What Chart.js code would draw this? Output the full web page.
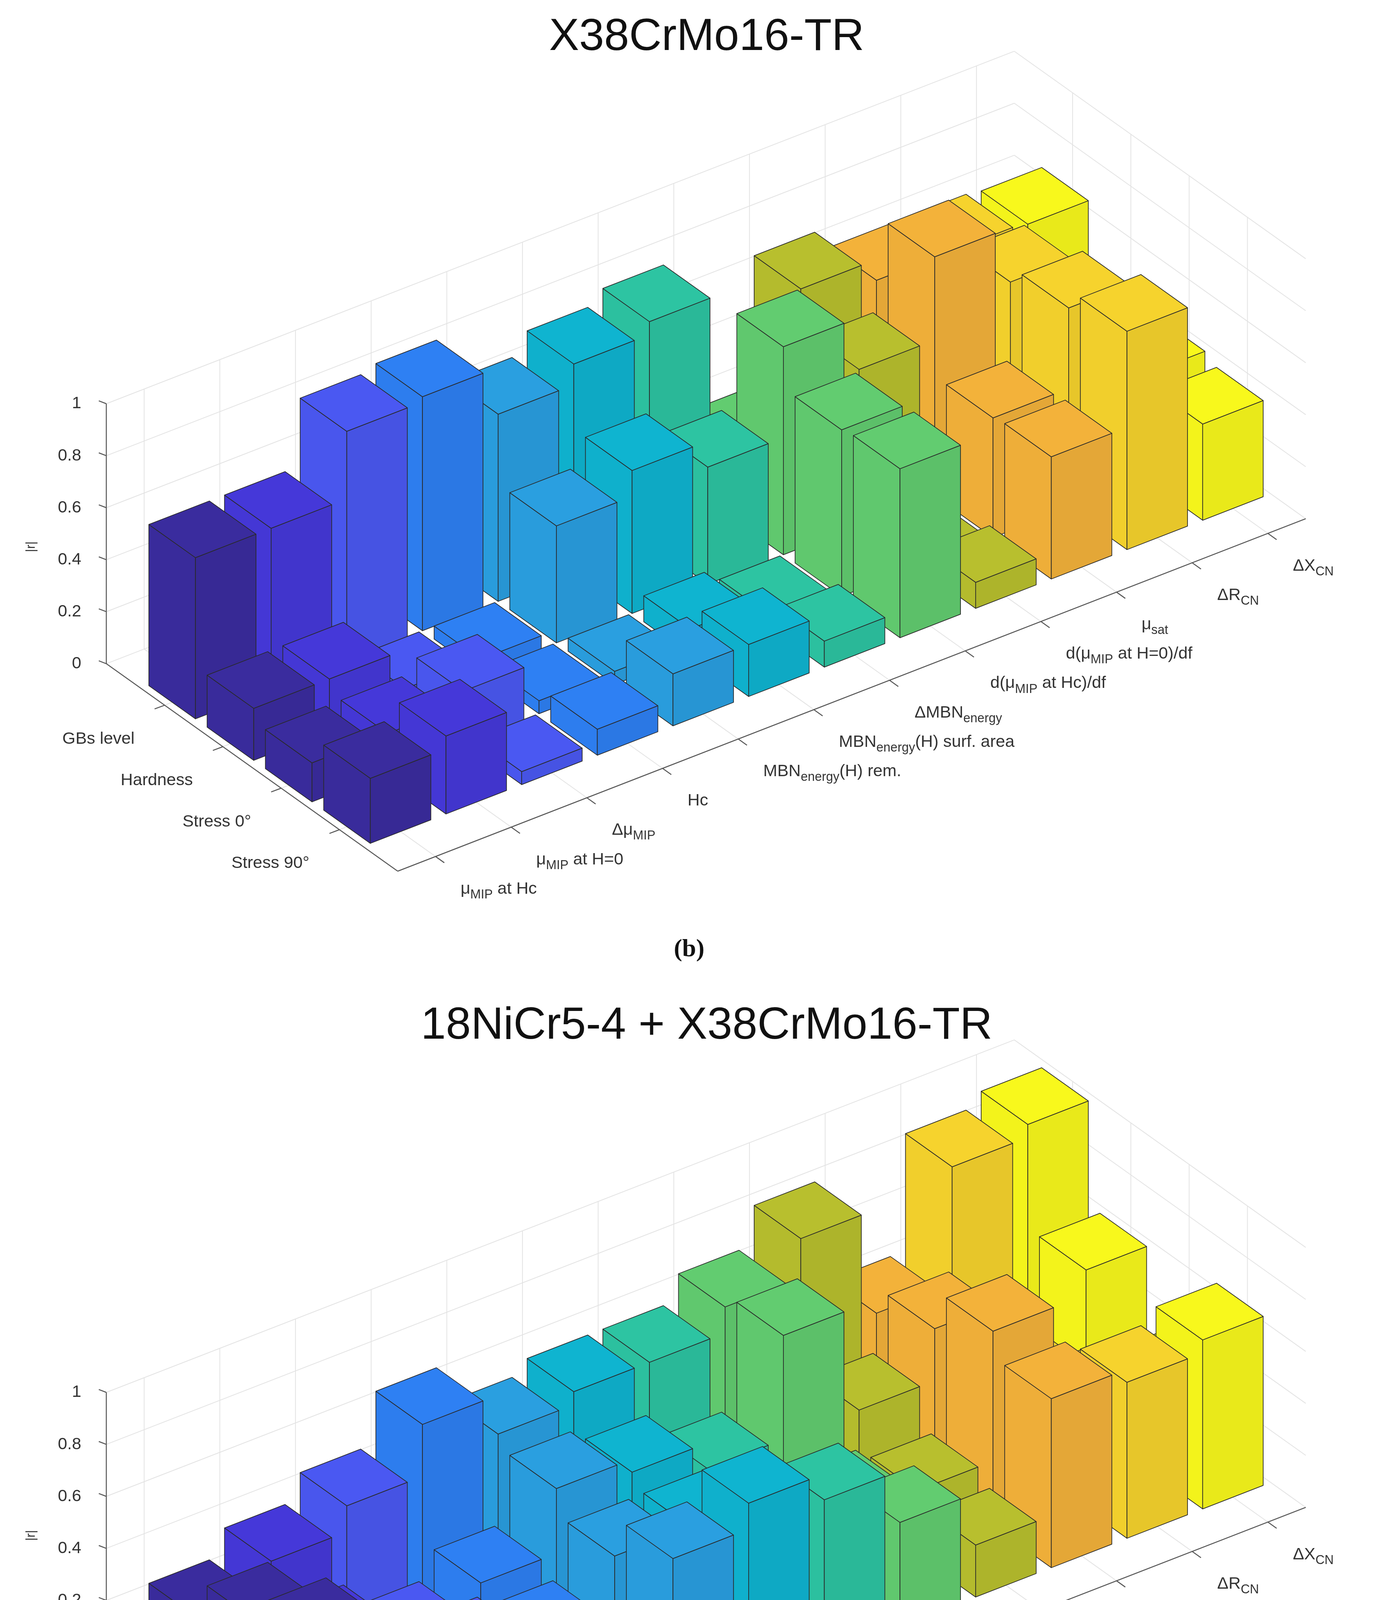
<!DOCTYPE html>
<html>
<head>
<meta charset="utf-8">
<script src="https://cdn.jsdelivr.net/npm/chart.js@4.4.1/dist/chart.umd.min.js"></script>
<style>
  html, body { margin: 0; padding: 0; background: #fff; overflow: hidden; }
  canvas { display: block; }
</style>
</head>
<body>
<canvas id="chartB" width="3524" height="2515"></canvas>
<canvas id="chartC" width="3524" height="2531"></canvas>
<script>
// categories
var rowLabels = ['GBs level', 'Hardness', 'Stress 0°', 'Stress 90°'];
var colLabels = [
  [['μ'], ['MIP', 1], [' at Hc']],
  [['μ'], ['MIP', 1], [' at H=0']],
  [['Δμ'], ['MIP', 1]],
  [['Hc']],
  [['MBN'], ['energy', 1], ['(H) rem.']],
  [['MBN'], ['energy', 1], ['(H) surf. area']],
  [['ΔMBN'], ['energy', 1]],
  [['d(μ'], ['MIP', 1], [' at Hc)/df']],
  [['d(μ'], ['MIP', 1], [' at H=0)/df']],
  [['μ'], ['sat', 1]],
  [['ΔR'], ['CN', 1]],
  [['ΔX'], ['CN', 1]]
];
var colColors = ['#3a2c9e', '#4538d9', '#4a58f2', '#2e80f3', '#2a9fe0', '#0fb4d0',
                 '#2dc4a2', '#62cc70', '#b8bf2e', '#f3b23a', '#f6d32d', '#f8f81c'];
var zTicks = [0, 0.2, 0.4, 0.6, 0.8, 1];

// |r| values, one array per row (GBs level, Hardness, Stress 0°, Stress 90°)
var b_gbs      = [0.62, 0.62, 0.88, 0.90, 0.72, 0.80, 0.85, 0.25, 0.75, 0.67, 0.67, 0.66];
var b_hardness = [0.20, 0.20, 0.05, 0.05, 0.45, 0.55, 0.45, 0.80, 0.60, 0.92, 0.71, 0.40];
var b_stress0  = [0.15, 0.15, 0.20, 0.05, 0.05, 0.10, 0.05, 0.64, 0.05, 0.46, 0.77, 0.40];
var b_stress90 = [0.25, 0.30, 0.05, 0.10, 0.20, 0.20, 0.10, 0.65, 0.10, 0.47, 0.84, 0.37];

var c_gbs      = [0.35, 0.45, 0.55, 0.75, 0.60, 0.65, 0.65, 0.75, 0.90, 0.50, 0.95, 1.00];
var c_hardness = [0.50, 0.30, 0.20, 0.30, 0.55, 0.50, 0.40, 0.80, 0.40, 0.60, 0.30, 0.60];
var c_stress0  = [0.60, 0.30, 0.30, 0.25, 0.45, 0.45, 0.30, 0.30, 0.25, 0.75, 0.35, 0.30];
var c_stress90 = [0.65, 0.50, 0.30, 0.20, 0.60, 0.70, 0.60, 0.40, 0.20, 0.65, 0.60, 0.65];

var S = 3.2; // reference picture units -> pixels

function shade(hex, f) {
  var n = parseInt(hex.slice(1), 16);
  var r = Math.round(((n >> 16) & 255) * f), g = Math.round(((n >> 8) & 255) * f), b = Math.round((n & 255) * f);
  return 'rgb(' + r + ',' + g + ',' + b + ')';
}

function drawRich(ctx, parts, x, y, align, size) {
  var w = 0, i;
  for (i = 0; i < parts.length; i++) {
    ctx.font = (parts[i][1] ? size * 0.75 : size) + 'px "Liberation Sans", Arial, sans-serif';
    w += ctx.measureText(parts[i][0]).width;
  }
  var cx = align === 'right' ? x - w : x;
  ctx.textAlign = 'left';
  ctx.textBaseline = 'middle';
  for (i = 0; i < parts.length; i++) {
    var sub = parts[i][1];
    ctx.font = (sub ? size * 0.75 : size) + 'px "Liberation Sans", Arial, sans-serif';
    ctx.fillText(parts[i][0], cx, y + (sub ? size * 0.35 : 0));
    cx += ctx.measureText(parts[i][0]).width;
  }
}

var bar3Plugin = {
  id: 'bar3',
  afterDatasetsDraw: function(chart) {
    var ctx = chart.ctx;
    var sx = chart.scales.x, sy = chart.scales.y;
    var opt = chart.options.plugins.bar3;
    var rows = opt.rows;
    // column index u, row index v, height z -> pixel, through the chart's scales
    function P(u, v, z) {
      return [sx.getPixelForValue(85 + (u - 0.5) * 60.5 + v * 46.6),
              sy.getPixelForValue(531 - (u - 0.5) * 23.5 + v * 33.2 - z * 208)];
    }
    function line(a, b) {
      ctx.beginPath(); ctx.moveTo(a[0], a[1]); ctx.lineTo(b[0], b[1]); ctx.stroke();
    }
    function poly(pts, fill) {
      ctx.beginPath();
      ctx.moveTo(pts[0][0], pts[0][1]);
      for (var i = 1; i < pts.length; i++) ctx.lineTo(pts[i][0], pts[i][1]);
      ctx.closePath();
      ctx.fillStyle = fill; ctx.fill(); ctx.stroke();
    }
    ctx.save();
    // title and caption
    ctx.fillStyle = '#111';
    ctx.textAlign = 'center'; ctx.textBaseline = 'middle';
    ctx.font = (36 * S) + 'px "Liberation Sans", Arial, sans-serif';
    ctx.fillText(opt.title, sx.getPixelForValue(565), sy.getPixelForValue(30));
    ctx.font = 'bold ' + (20 * S) + 'px "Liberation Serif", serif';
    ctx.fillText(opt.caption, sx.getPixelForValue(551), sy.getPixelForValue(760));

    // grid on walls and floor
    ctx.strokeStyle = '#e3e3e3'; ctx.lineWidth = 2;
    zTicks.forEach(function(z) {
      line(P(0.5, 0, z), P(12.5, 0, z));
      line(P(12.5, 0, z), P(12.5, 5, z));
    });
    for (var u = 1; u <= 12; u++) { line(P(u, 0, 0), P(u, 0, 1)); line(P(u, 0, 0), P(u, 5, 0)); }
    for (var v = 1; v <= 4; v++) { line(P(12.5, v, 0), P(12.5, v, 1)); line(P(0.5, v, 0), P(12.5, v, 0)); }

    // axes
    ctx.strokeStyle = '#555'; ctx.lineWidth = 2.5;
    line(P(0.5, 0, 0), P(0.5, 0, 1));
    line(P(0.5, 0, 0), P(0.5, 5, 0));
    line(P(0.5, 5, 0), P(12.5, 5, 0));
    ctx.fillStyle = '#333';
    var fs = 13.5 * S;
    ctx.font = fs + 'px "Liberation Sans", Arial, sans-serif';
    ctx.textAlign = 'right'; ctx.textBaseline = 'middle';
    zTicks.forEach(function(z) {
      var p = P(0.5, 0, z);
      line(p, [p[0] - 6 * S, p[1] - 2.3 * S]);
      ctx.fillText(String(z), p[0] - 20 * S, p[1]);
    });
    rowLabels.forEach(function(lab, i) {
      var p = P(0.5, i + 1, 0);
      line(p, [p[0] - 8 * S, p[1] + 3 * S]);
      drawRich(ctx, [[lab]], p[0] - 24 * S, p[1] + 27 * S, 'right', fs);
    });
    colLabels.forEach(function(lab, i) {
      var p = P(i + 1, 5, 0);
      line(p, [p[0] + 7 * S, p[1] + 5 * S]);
      drawRich(ctx, lab, p[0] + 20 * S, p[1] + 26 * S, 'left', fs);
    });
    ctx.save();
    var zl = P(0.5, 0, 0.45);
    ctx.translate(zl[0] - 60 * S, zl[1]);
    ctx.rotate(-Math.PI / 2);
    ctx.textAlign = 'center';
    ctx.fillText('|r|', 0, 0);
    ctx.restore();

    // bars, far to near
    ctx.strokeStyle = '#2a2a2a'; ctx.lineWidth = 1.8; ctx.lineJoin = 'round';
    var h = 0.4;
    for (var r = 0; r < rows.length; r++) {
      for (var c = 11; c >= 0; c--) {
        var z = rows[r][c];
        if (z <= 0.005) continue;
        var uc = c + 1, vc = r + 1, col = colColors[c];
        var u0 = uc - h, u1 = uc + h, v0 = vc - h, v1 = vc + h;
        poly([P(u0, v0, 0), P(u0, v1, 0), P(u0, v1, z), P(u0, v0, z)], shade(col, 0.98));
        poly([P(u0, v1, 0), P(u1, v1, 0), P(u1, v1, z), P(u0, v1, z)], shade(col, 0.94));
        poly([P(u0, v0, z), P(u1, v0, z), P(u1, v1, z), P(u0, v1, z)], col);
      }
    }
    ctx.restore();
  }
};

function makeChart(id, title, caption, rows, yMin, yMax) {
  return new Chart(document.getElementById(id), {
    type: 'scatter',
    data: { datasets: [{ data: [] }] },
    options: {
      responsive: false,
      animation: false,
      devicePixelRatio: 1,
      layout: { padding: 0 },
      scales: {
        x: { type: 'linear', min: 0, max: 1101, display: false },
        y: { type: 'linear', min: yMin, max: yMax, reverse: true, display: false }
      },
      plugins: {
        legend: { display: false },
        tooltip: { enabled: false },
        bar3: { title: title, caption: caption, rows: rows }
      }
    },
    plugins: [bar3Plugin]
  });
}

makeChart('chartB', 'X38CrMo16-TR', '(b)', [b_gbs, b_hardness, b_stress0, b_stress90], 0, 786);
makeChart('chartC', '18NiCr5-4 + X38CrMo16-TR', '(c)', [c_gbs, c_hardness, c_stress0, c_stress90], -5, 786);
</script>
</body>
</html>
